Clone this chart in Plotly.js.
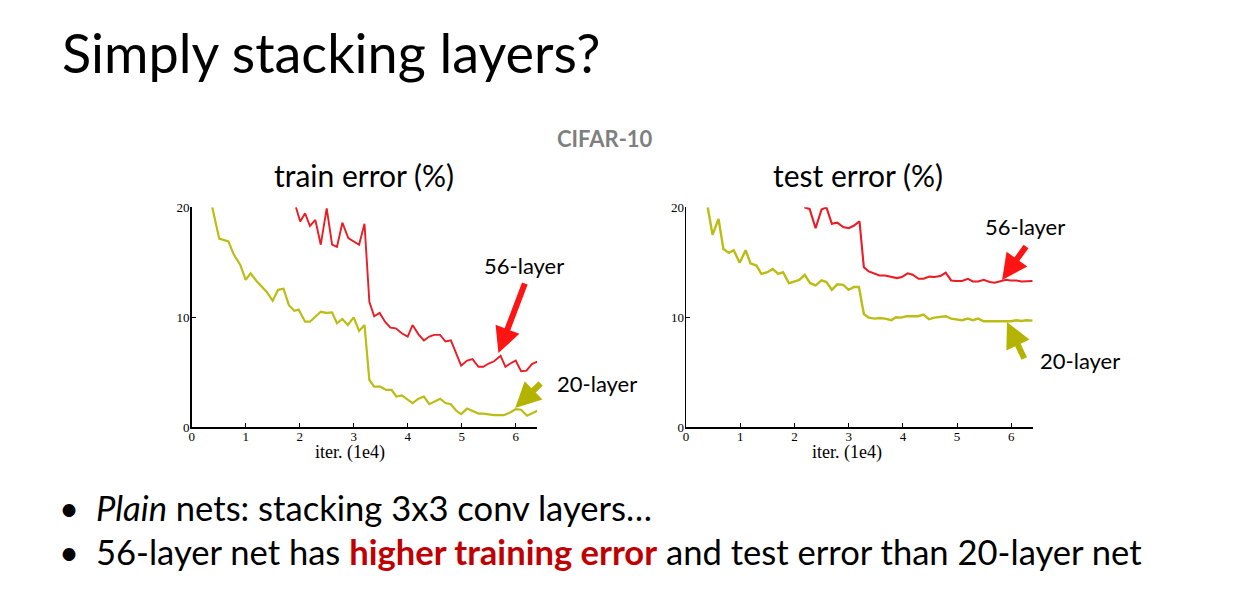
<!DOCTYPE html>
<html>
<head>
<meta charset="utf-8">
<script src="https://cdn.plot.ly/plotly-3.0.1.min.js"></script>
<style>html,body{margin:0;padding:0;background:#fff;}#chart{width:1233px;height:602px;}</style>
</head>
<body>
<div id="chart"></div>
<script>
// ---- data (iterations in units of 1e4, error in %) ----
var trainPlainX20 = [0.38,0.51,0.68,0.78,0.9,1.0,1.09,1.2,1.39,1.5,1.6,1.7,1.8,1.9,1.98,2.1,2.19,2.39,2.49,2.6,2.69,2.79,2.89,3.0,3.1,3.2,3.29,3.38,3.49,3.6,3.7,3.79,3.89,4.0,4.09,4.2,4.3,4.4,4.49,4.6,4.7,4.8,4.9,4.99,5.1,5.2,5.31,5.4,5.5,5.6,5.78,5.9,6.0,6.1,6.21,6.3,6.4];
var trainPlainY20 = [20.0,17.15,16.9,15.7,14.76,13.4,14.0,13.3,12.3,11.5,12.5,12.6,11.1,10.6,10.7,9.6,9.6,10.5,10.4,10.45,9.45,9.85,9.3,10.0,8.75,9.3,4.3,3.7,3.7,3.4,3.4,2.8,2.9,2.55,2.2,2.6,2.8,2.1,2.3,2.6,2.2,2.1,1.5,1.2,1.7,1.5,1.25,1.25,1.2,1.1,1.1,1.35,1.65,1.6,1.05,1.3,1.5];

var trainPlainX56 = [1.93,2.01,2.1,2.19,2.29,2.39,2.5,2.6,2.69,2.79,2.9,3.0,3.1,3.2,3.29,3.38,3.48,3.58,3.68,3.78,3.89,4.0,4.09,4.2,4.3,4.4,4.49,4.6,4.7,4.8,4.9,4.99,5.1,5.2,5.31,5.4,5.5,5.6,5.72,5.81,5.9,6.0,6.1,6.2,6.3,6.4];
var trainPlainY56 = [20.0,18.7,19.45,18.3,18.85,16.6,19.9,16.6,16.4,18.6,17.2,16.9,16.6,18.5,11.4,10.1,10.4,9.6,9.06,9.0,8.55,8.25,9.3,8.45,7.9,8.25,8.4,8.4,7.8,7.9,6.7,5.6,6.06,6.2,5.5,5.5,5.8,6.0,6.5,5.5,5.8,6.06,5.1,5.15,5.75,5.97];

var testPlainX20 = [0.4,0.49,0.6,0.69,0.79,0.88,0.99,1.1,1.19,1.3,1.39,1.5,1.6,1.7,1.79,1.9,1.99,2.09,2.19,2.29,2.39,2.5,2.59,2.69,2.79,2.9,3.0,3.1,3.19,3.28,3.37,3.48,3.57,3.67,3.79,3.87,3.97,4.07,4.18,4.28,4.38,4.48,4.58,4.69,4.79,4.89,4.98,5.09,5.2,5.29,5.39,5.49,5.6,5.69,5.78,5.9,5.99,6.09,6.19,6.28,6.39];
var testPlainY20 = [20.0,17.5,18.95,16.2,15.85,16.1,14.95,16.1,14.9,14.7,13.95,14.1,14.4,13.95,14.1,13.1,13.25,13.4,13.85,13.1,12.9,13.35,13.2,12.5,13.0,12.95,12.5,12.75,12.75,10.3,9.97,9.88,9.94,9.88,9.73,10.0,9.97,10.1,10.1,10.1,10.24,9.82,9.97,10.03,10.1,9.88,9.82,9.73,9.88,9.73,9.88,9.64,9.64,9.64,9.67,9.64,9.64,9.73,9.67,9.73,9.7];

var testPlainX56 = [2.18,2.28,2.39,2.5,2.59,2.69,2.79,2.9,3.0,3.1,3.2,3.28,3.37,3.48,3.57,3.67,3.79,3.89,3.98,4.09,4.18,4.29,4.38,4.49,4.58,4.69,4.79,4.89,4.98,5.09,5.2,5.29,5.39,5.49,5.6,5.69,5.78,5.9,5.99,6.09,6.19,6.28,6.39];
var testPlainY56 = [20.0,19.85,18.1,19.8,20.0,18.5,18.6,18.2,18.1,18.34,18.73,14.56,14.17,13.96,13.8,13.8,13.66,13.56,13.66,14.0,13.87,13.5,13.5,13.7,13.66,13.75,14.05,13.35,13.3,13.3,13.5,13.26,13.26,13.41,13.2,13.14,13.26,13.41,13.35,13.35,13.26,13.26,13.3];

var xTickVals = [0,1,2,3,4,5,6];
var yTickVals = [0,10,20];

var slideTitle = "Simply stacking layers?";
var datasetLabel = "CIFAR-10";
var panelTitles = ["train error (%)", "test error (%)"];
var seriesNames = ["56-layer", "20-layer"];
var xAxisTitle = "iter. (1e4)";
var bullet1 = "<i>Plain</i> nets: stacking 3x3 conv layers…";
var bullet2 = "56-layer net has <b><span style='color:#c00000'>higher training error</span></b> and test error than 20-layer net";

// ---- style ----
var RED = "#ea1c24", YEL = "#bcbc14";
var W = 1233, H = 602;
function px(x){ return x / W; }
function py(y){ return 1 - y / H; }

var traces = [
  {x: trainPlainX20, y: trainPlainY20, xaxis:'x', yaxis:'y', mode:'lines', line:{color:YEL, width:2.2}, name:seriesNames[1]},
  {x: trainPlainX56, y: trainPlainY56, xaxis:'x', yaxis:'y', mode:'lines', line:{color:RED, width:1.9}, name:seriesNames[0]},
  {x: testPlainX20, y: testPlainY20, xaxis:'x2', yaxis:'y2', mode:'lines', line:{color:YEL, width:2.4}, name:seriesNames[1]},
  {x: testPlainX56, y: testPlainY56, xaxis:'x2', yaxis:'y2', mode:'lines', line:{color:RED, width:2.1}, name:seriesNames[0]}
];

var serif = "Liberation Serif, Times New Roman, serif";
var tickFont = {family:serif, size:13, color:"#000"};
function xax(domain, anchor){
  return {domain:domain, anchor:anchor, range:[0,6.4], tickvals:xTickVals, ticktext:xTickVals.map(String),
    ticks:'inside', ticklen:4, tickwidth:1, tickcolor:'#000', showline:true, linecolor:'#000', linewidth:1.5,
    showgrid:false, zeroline:false, tickfont:tickFont, ticklabelstandoff:-3};
}
function yax(domain, anchor){
  return {domain:domain, anchor:anchor, range:[0,20], tickvals:yTickVals, ticktext:yTickVals.map(String),
    ticks:'inside', ticklen:4, tickwidth:1, tickcolor:'#000', showline:true, linecolor:'#000', linewidth:1.5,
    showgrid:false, zeroline:false, tickfont:tickFont, ticklabelstandoff:-2};
}

var sans = "Lato, Carlito, 'Open Sans', sans-serif";
function txt(text, x, y, size, opts){
  opts = opts || {};
  return {text:text, xref:'paper', yref:'paper', x:px(x), y:py(y), xanchor:opts.xanchor||'center', yanchor:'middle',
    showarrow:false, font:{family:opts.family||sans, size:size, color:opts.color||'#000', weight:opts.weight||'normal'}};
}
function arrow(xref, yref, x, y, ax, ay, color){
  return {xref:xref, yref:yref, x:x, y:y, ax:ax, ay:ay, text:'', showarrow:true, arrowhead:2, arrowsize:0.85,
    arrowwidth:6, arrowcolor:color, standoff:0};
}

var annotations = [
  txt(slideTitle, 60, 53, 54, {xanchor:'left'}),
  txt(datasetLabel, 605, 138, 22, {color:'#7f7f7f', weight:'bold'}),
  txt(panelTitles[0], 364, 175, 30),
  txt(panelTitles[1], 858, 175, 30),
  txt(seriesNames[0], 524, 265, 22),
  txt(seriesNames[1], 597, 383, 22),
  txt(seriesNames[0], 1025, 227, 22),
  txt(seriesNames[1], 1080, 360, 22),
  txt(xAxisTitle, 350, 452, 18, {family:serif}),
  txt(xAxisTitle, 847, 452, 18, {family:serif}),
  txt("•", 57, 507, 34.6, {xanchor:'left'}),
  txt("•", 57, 551, 34.6, {xanchor:'left'}),
  txt(bullet1, 94, 507, 34.6, {xanchor:'left'}),
  txt(bullet2, 94, 551, 34.6, {xanchor:'left'}),
  arrow('x','y', 5.68, 6.75, 27, -71, '#ff1414'),
  arrow('x','y', 5.99, 1.75, 27, -26, '#b3b300'),
  arrow('x2','y2', 5.83, 13.4, 25, -35, '#ff1414'),
  arrow('x2','y2', 5.92, 9.57, 18, 38, '#b3b300')
];

var yDom = [py(427.3), py(207.3)];
var layout = {
  width:W, height:H, margin:{l:0,r:0,t:0,b:0}, paper_bgcolor:'#fff', plot_bgcolor:'#fff', showlegend:false,
  xaxis: xax([px(191.7), px(537.3)], 'y'),
  yaxis: yax(yDom, 'x'),
  xaxis2: xax([px(686), px(1033)], 'y2'),
  yaxis2: yax(yDom, 'x2'),
  annotations: annotations
};

Plotly.newPlot('chart', traces, layout, {staticPlot:true});
</script>
</body>
</html>
